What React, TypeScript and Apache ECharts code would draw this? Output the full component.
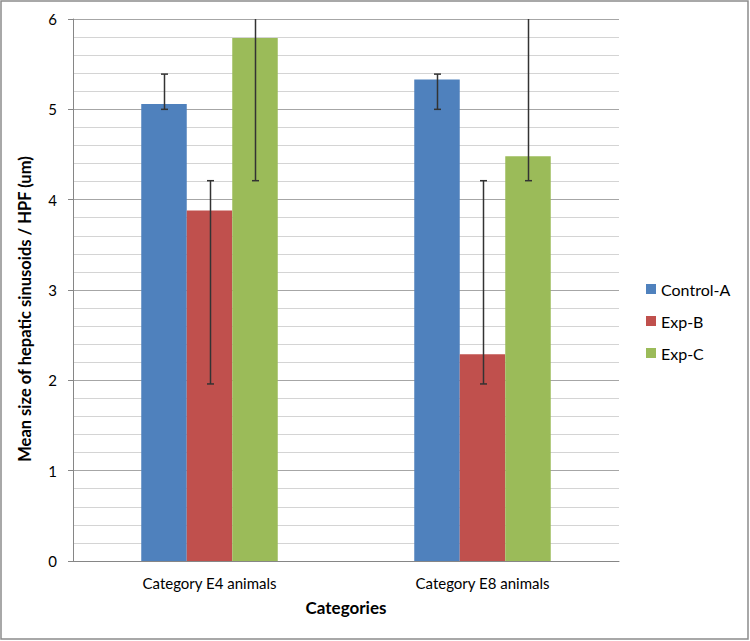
import React, { useEffect, useRef } from "react";
import * as echarts from "echarts";

const categories = ["Category E4 animals", "Category E8 animals"];
const seriesNames = ["Control-A", "Exp-B", "Exp-C"];
const controlA = [5.06, 5.33];
const expB = [3.88, 2.29];
const expC = [5.79, 4.48];
// error bar bounds per series (low / high), one entry per category
const controlALow = [5.0, 5.0];
const controlAHigh = [5.39, 5.39];
const expBLow = [1.96, 1.96];
const expBHigh = [4.21, 4.21];
const expCLow = [4.21, 4.21];
const expCHigh = [6.6, 6.6];
const colors = ["#4f81bd", "#c0504d", "#9bbb59"];
const yTitle = "Mean size of hepatic sinusoids / HPF (um)";

const FONT = "Lato, 'Open Sans', sans-serif";

export default function App() {
  const ref = useRef<HTMLDivElement>(null);

  useEffect(() => {
    if (!ref.current) return;
    const chart = echarts.init(ref.current, undefined, { renderer: "svg" });

    const values = [controlA, expB, expC];
    const lows = [controlALow, expBLow, expCLow];
    const highs = [controlAHigh, expBHigh, expCHigh];
    const errData: number[][] = [];
    values.forEach((_, s) => {
      categories.forEach((_, c) => {
        errData.push([c, lows[s][c], highs[s][c], s]);
      });
    });

    const catGap = 0.5;

    chart.setOption({
      animation: false,
      textStyle: { fontFamily: FONT },
      grid: { left: 73, right: 131, top: 19, bottom: 80 },
      legend: {
        data: seriesNames,
        orient: "vertical",
        left: 646,
        top: 280,
        padding: 0,
        itemWidth: 10,
        itemHeight: 10,
        itemGap: 14,
        icon: "rect",
        textStyle: { fontSize: 16, color: "#000", fontFamily: FONT, lineHeight: 18 },
      },
      xAxis: {
        type: "category",
        data: categories,
        name: "Categories",
        nameLocation: "middle",
        nameGap: 38,
        nameTextStyle: { fontSize: 17, fontWeight: "bold", color: "#000", fontFamily: FONT },
        axisLine: { lineStyle: { color: "#868686", width: 1 } },
        axisTick: { show: false },
        axisLabel: { fontSize: 15, color: "#000", margin: 14, fontFamily: FONT },
      },
      yAxis: {
        type: "value",
        min: 0,
        max: 6,
        interval: 1,
        axisLine: { show: true, lineStyle: { color: "#868686", width: 1 } },
        axisTick: { show: true, length: 5, lineStyle: { color: "#868686" } },
        axisLabel: { fontSize: 15, color: "#000", margin: 16, fontFamily: FONT },
        splitLine: { lineStyle: { color: "#a6a6a6", width: 1 } },
        minorTick: { show: false, splitNumber: 5 },
        minorSplitLine: { show: true, lineStyle: { color: "#d4d4d4", width: 1 } },
      },
      series: [
        ...seriesNames.map((name, i) => ({
          name,
          type: "bar",
          data: values[i],
          barGap: "0%",
          barCategoryGap: "50%",
          itemStyle: { color: colors[i] },
        })),
        {
          name: "errors",
          type: "custom",
          clip: true,
          z: 10,
          data: errData,
          renderItem: (params: any, api: any) => {
            const c = api.value(0);
            const lo = api.value(1);
            const hi = api.value(2);
            const s = api.value(3);
            const band = api.size([1, 0])[0];
            const bw = (band * (1 - catGap)) / 3;
            const base = api.coord([c, lo]);
            const cx = Math.round(base[0] + (s - 1) * bw) + 0.5;
            const yLo = base[1];
            const yHi = api.coord([c, hi])[1];
            const cap = 3.5;
            const style = { stroke: "#333333", lineWidth: 1.5 };
            return {
              type: "group",
              children: [
                { type: "line", shape: { x1: cx, y1: yLo, x2: cx, y2: yHi }, style },
                { type: "line", shape: { x1: cx - cap, y1: yLo, x2: cx + cap, y2: yLo }, style },
                { type: "line", shape: { x1: cx - cap, y1: yHi, x2: cx + cap, y2: yHi }, style },
              ],
            };
          },
        },
      ],
      graphic: [
        {
          type: "rect",
          shape: { x: 1, y: 1, width: 747, height: 638 },
          style: { fill: "none", stroke: "#8c8c8c", lineWidth: 1.5 },
          silent: true,
        },
        {
          type: "text",
          x: 25,
          y: 309,
          rotation: Math.PI / 2,
          style: {
            text: yTitle,
            fontSize: 16.5,
            fontWeight: "bold",
            fontFamily: FONT,
            fill: "#000",
            align: "center",
            verticalAlign: "middle",
          },
          silent: true,
        },
      ],
    });

    return () => chart.dispose();
  }, []);

  return (
    <div
      ref={ref}
      style={{ position: "fixed", left: 0, top: 0, width: 750, height: 641, background: "#fff" }}
    />
  );
}
